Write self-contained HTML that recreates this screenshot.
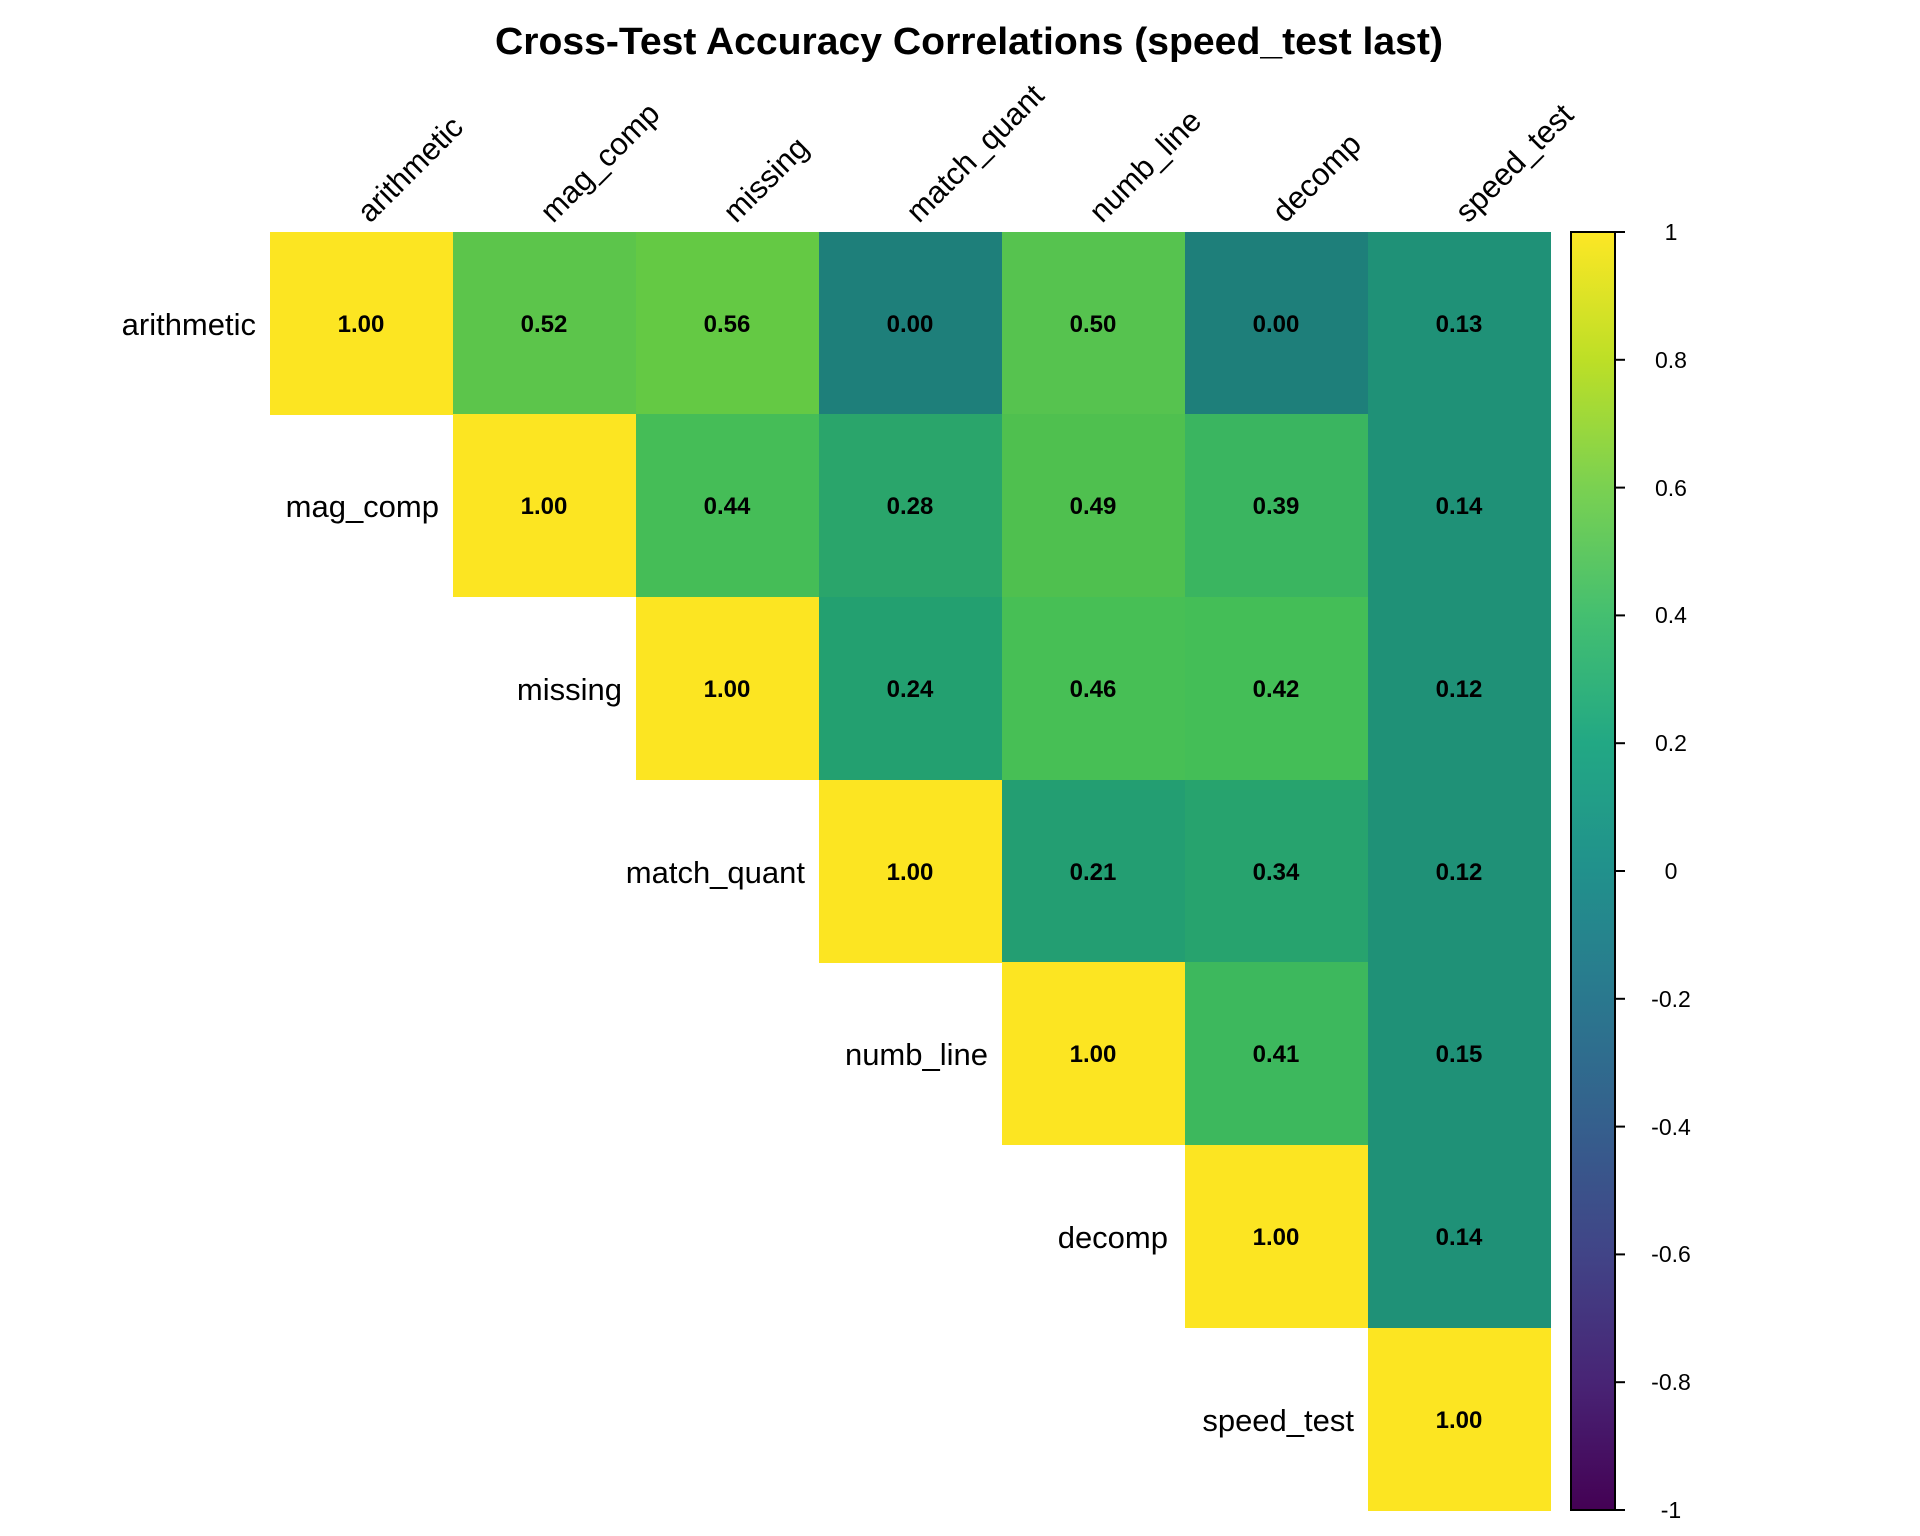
<!DOCTYPE html>
<html><head><meta charset="utf-8"><style>
html,body{margin:0;padding:0;background:#fff;}
svg{display:block;}
text{font-family:"Liberation Sans",Arial,sans-serif;}
</style></head><body>
<svg width="1920" height="1536" viewBox="0 0 1920 1536" xmlns="http://www.w3.org/2000/svg">
<defs>
<linearGradient id="vir" x1="0" y1="1" x2="0" y2="0">
<stop offset="0" stop-color="#440154"/>
<stop offset="0.1" stop-color="#482475"/>
<stop offset="0.2" stop-color="#414487"/>
<stop offset="0.3" stop-color="#355f8d"/>
<stop offset="0.4" stop-color="#2a788e"/>
<stop offset="0.5" stop-color="#21918c"/>
<stop offset="0.6" stop-color="#22a884"/>
<stop offset="0.7" stop-color="#44bf70"/>
<stop offset="0.8" stop-color="#7ad151"/>
<stop offset="0.9" stop-color="#bddf26"/>
<stop offset="1" stop-color="#fde725"/>
</linearGradient>
</defs>
<text x="969" y="54" font-size="38" font-weight="bold" text-anchor="middle" textLength="948" lengthAdjust="spacingAndGlyphs">Cross-Test Accuracy Correlations (speed_test last)</text>

<g id="cells">
<rect x="270" y="232" width="184" height="183" fill="#fce522"/>
<rect x="453" y="232" width="184" height="183" fill="#5cc54b"/>
<rect x="636" y="232" width="184" height="183" fill="#64c944"/>
<rect x="819" y="232" width="184" height="183" fill="#1e7f7a"/>
<rect x="1002" y="232" width="184" height="183" fill="#56c34f"/>
<rect x="1185" y="232" width="184" height="183" fill="#1e7f7a"/>
<rect x="1368" y="232" width="183" height="183" fill="#1f9177"/>
<rect x="453" y="414" width="184" height="183" fill="#fce522"/>
<rect x="636" y="414" width="184" height="183" fill="#45bd57"/>
<rect x="819" y="414" width="184" height="183" fill="#2aa56b"/>
<rect x="1002" y="414" width="184" height="183" fill="#4fc04f"/>
<rect x="1185" y="414" width="184" height="183" fill="#3ab560"/>
<rect x="1368" y="414" width="183" height="183" fill="#1f9177"/>
<rect x="636" y="597" width="184" height="183" fill="#fce522"/>
<rect x="819" y="597" width="184" height="183" fill="#23a070"/>
<rect x="1002" y="597" width="184" height="183" fill="#47bf55"/>
<rect x="1185" y="597" width="184" height="183" fill="#44be57"/>
<rect x="1368" y="597" width="183" height="183" fill="#1f9177"/>
<rect x="819" y="780" width="184" height="183" fill="#fce522"/>
<rect x="1002" y="780" width="184" height="183" fill="#239e72"/>
<rect x="1185" y="780" width="184" height="183" fill="#27a36e"/>
<rect x="1368" y="780" width="183" height="183" fill="#1f9177"/>
<rect x="1002" y="962" width="184" height="183" fill="#fce522"/>
<rect x="1185" y="962" width="184" height="183" fill="#3db85d"/>
<rect x="1368" y="962" width="183" height="183" fill="#1f9177"/>
<rect x="1185" y="1145" width="184" height="183" fill="#fce522"/>
<rect x="1368" y="1145" width="183" height="183" fill="#1f9177"/>
<rect x="1368" y="1328" width="183" height="183" fill="#fce522"/>
</g>

<g font-size="24" font-weight="bold" text-anchor="middle">
<text x="361" y="332">1.00</text><text x="544" y="332">0.52</text><text x="727" y="332">0.56</text><text x="910" y="332">0.00</text><text x="1093" y="332">0.50</text><text x="1276" y="332">0.00</text><text x="1459" y="332">0.13</text>
<text x="544" y="514">1.00</text><text x="727" y="514">0.44</text><text x="910" y="514">0.28</text><text x="1093" y="514">0.49</text><text x="1276" y="514">0.39</text><text x="1459" y="514">0.14</text>
<text x="727" y="697">1.00</text><text x="910" y="697">0.24</text><text x="1093" y="697">0.46</text><text x="1276" y="697">0.42</text><text x="1459" y="697">0.12</text>
<text x="910" y="880">1.00</text><text x="1093" y="880">0.21</text><text x="1276" y="880">0.34</text><text x="1459" y="880">0.12</text>
<text x="1093" y="1062">1.00</text><text x="1276" y="1062">0.41</text><text x="1459" y="1062">0.15</text>
<text x="1276" y="1245">1.00</text><text x="1459" y="1245">0.14</text>
<text x="1459" y="1428">1.00</text>
</g>

<g font-size="31" text-anchor="end">
<text x="256" y="335">arithmetic</text>
<text x="439" y="517">mag_comp</text>
<text x="622" y="700">missing</text>
<text x="805" y="883">match_quant</text>
<text x="988" y="1065">numb_line</text>
<text x="1168" y="1248">decomp</text>
<text x="1354" y="1431">speed_test</text>
</g>

<g font-size="31">
<text transform="translate(370,224) rotate(-45)">arithmetic</text>
<text transform="translate(553,224) rotate(-45)">mag_comp</text>
<text transform="translate(736,224) rotate(-45)">missing</text>
<text transform="translate(919,224) rotate(-45)">match_quant</text>
<text transform="translate(1102,224) rotate(-45)">numb_line</text>
<text transform="translate(1285,224) rotate(-45)">decomp</text>
<text transform="translate(1468,224) rotate(-45)">speed_test</text>
</g>

<rect x="1571" y="232" width="44" height="1278" fill="url(#vir)" stroke="#000" stroke-width="2"/>
<g stroke="#000" stroke-width="2">
<line x1="1615" y1="232" x2="1625" y2="232"/>
<line x1="1615" y1="359.8" x2="1625" y2="359.8"/>
<line x1="1615" y1="487.6" x2="1625" y2="487.6"/>
<line x1="1615" y1="615.4" x2="1625" y2="615.4"/>
<line x1="1615" y1="743.2" x2="1625" y2="743.2"/>
<line x1="1615" y1="871" x2="1625" y2="871"/>
<line x1="1615" y1="998.8" x2="1625" y2="998.8"/>
<line x1="1615" y1="1126.6" x2="1625" y2="1126.6"/>
<line x1="1615" y1="1254.4" x2="1625" y2="1254.4"/>
<line x1="1615" y1="1382.2" x2="1625" y2="1382.2"/>
<line x1="1615" y1="1510" x2="1625" y2="1510"/>
</g>
<g font-size="23" text-anchor="middle">
<text x="1671" y="240">1</text>
<text x="1671" y="368">0.8</text>
<text x="1671" y="496">0.6</text>
<text x="1671" y="623">0.4</text>
<text x="1671" y="751">0.2</text>
<text x="1671" y="879">0</text>
<text x="1671" y="1007">-0.2</text>
<text x="1671" y="1135">-0.4</text>
<text x="1671" y="1262">-0.6</text>
<text x="1671" y="1390">-0.8</text>
<text x="1671" y="1518">-1</text>
</g>
</svg>
</body></html>
